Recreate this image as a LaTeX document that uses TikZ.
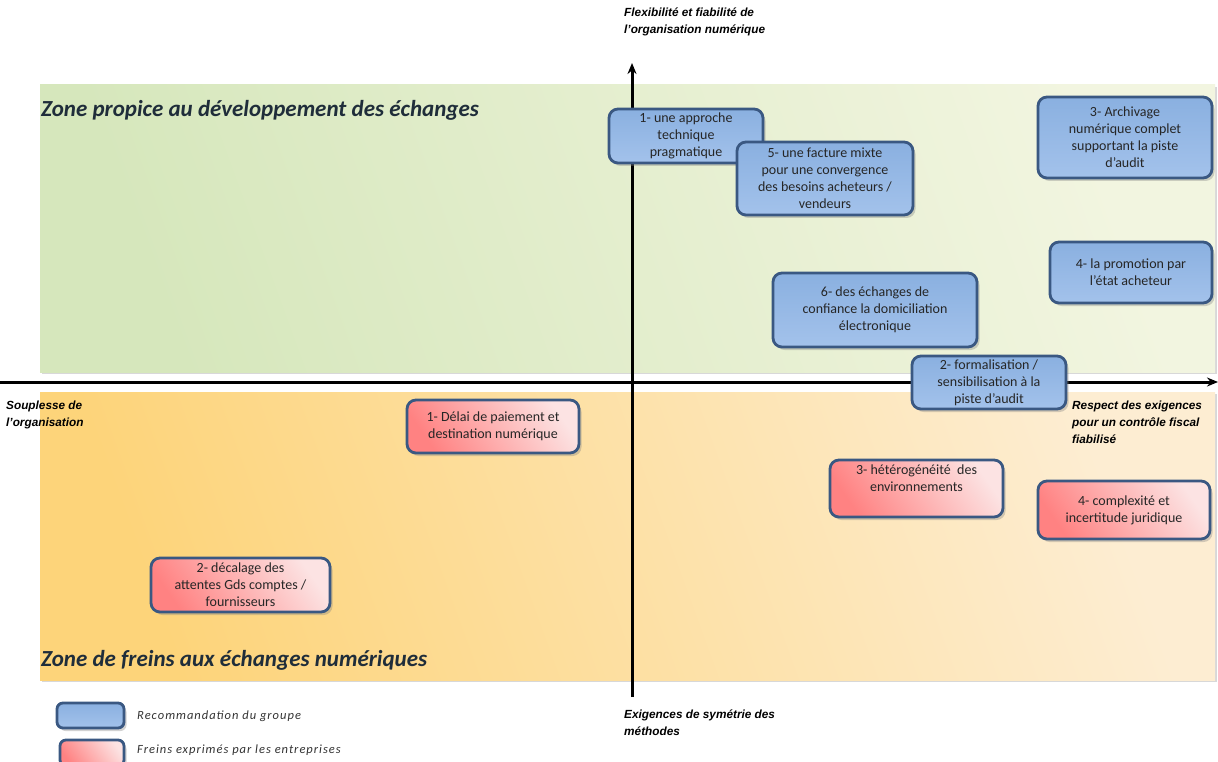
\documentclass[tikz,border=0pt]{standalone}
\usepackage{fontspec}
\setmainfont{Carlito}
\newfontfamily\axfont{Liberation Sans}
\usetikzlibrary{shadows,arrows.meta}
\definecolor{bluefillA}{HTML}{8AB0E0}
\definecolor{bluefillB}{HTML}{A3C2EB}
\definecolor{boxborder}{HTML}{3A5882}
\definecolor{redA}{HTML}{FF8282}
\definecolor{redB}{HTML}{FCE3E3}
\definecolor{greenA}{HTML}{D6E7BC}
\definecolor{greenB}{HTML}{F2F5E0}
\definecolor{orangeA}{HTML}{FDD47A}
\definecolor{orangeB}{HTML}{FDEDD2}
\definecolor{zonetext}{HTML}{1F2D3A}
\tikzset{
  boxbase/.style={rectangle, rounded corners=9pt, draw=boxborder, line width=2.8pt,
    align=center, inner sep=2pt, outer sep=0pt,
    font=\fontsize{14}{17}\selectfont, text=black!85,
    drop shadow={opacity=0.35, shadow xshift=2.5pt, shadow yshift=-3pt}},
  bluebox/.style={boxbase, top color=bluefillA, bottom color=bluefillB},
  redbox/.style={boxbase, left color=redA, right color=redB, shading angle=125},
  zonegreen/.style={rectangle, anchor=north west, inner sep=0pt, outer sep=0pt,
    left color=greenA, right color=greenB, shading angle=110,
    drop shadow={opacity=0.3, shadow xshift=2pt, shadow yshift=-2pt}},
  zoneorange/.style={rectangle, anchor=north west, inner sep=0pt, outer sep=0pt,
    left color=orangeA, right color=orangeB, shading angle=110,
    drop shadow={opacity=0.3, shadow xshift=2pt, shadow yshift=-2pt}},
  axisline/.style={line width=3pt, black, -{Stealth[length=11pt,width=9pt]},
    drop shadow={opacity=0.25, shadow xshift=1.5pt, shadow yshift=-1.5pt}},
  axlabel/.style={align=left, anchor=north west, inner sep=0pt,
    font=\axfont\fontsize{11.8}{17}\selectfont\bfseries\itshape},
  zonetitle/.style={anchor=west, inner sep=0pt, text=zonetext,
    font=\fontsize{23}{26}\selectfont\bfseries\itshape},
  legendtext/.style={anchor=west, inner sep=0pt, text=black!80,
    font=\fontsize{12.5}{14}\selectfont\itshape\addfontfeature{LetterSpace=8}},
}
\begin{document}
\begin{tikzpicture}[x=1pt,y=-1pt]
\useasboundingbox[fill=white] (0,0) rectangle (1218,762);

% zones
\node[zonegreen, minimum width=1175pt, minimum height=287pt] (zg) at (40,85) {};
\node[zoneorange, minimum width=1175pt, minimum height=288pt] (zo) at (40,392) {};
\node[zonetitle] (zgt) at (41,110) {Zone propice au développement des échanges};
\node[zonetitle] (zot) at (41,660) {Zone de freins aux échanges numériques};

% axes
\coordinate (xl) at (0,382);
\coordinate (xr) at (1218,382);
\coordinate (yb) at (632,697);
\coordinate (yt) at (632,63);
\draw[axisline] (xl) -- (xr);
\draw[axisline] (yb) -- (yt);

% axis labels
\node[axlabel] (ltop) at (624,8) {Flexibilité et fiabilité de\\l’organisation numérique};
\node[axlabel] (lleft) at (6,401) {Souplesse de\\l’organisation};
\node[axlabel] (lright) at (1072,401) {Respect des exigences\\pour un contrôle fiscal\\fiabilisé};
\node[axlabel] (lbot) at (624,710) {Exigences de symétrie des\\méthodes};

% blue boxes
\node[bluebox, minimum width=154pt, minimum height=54pt] (b1) at (686,136) {1- une approche\\technique\\pragmatique};
\node[bluebox, minimum width=176pt, minimum height=73pt] (b5) at (825,178.5) {5- une facture mixte\\pour une convergence\\des besoins acheteurs /\\vendeurs};
\node[bluebox, minimum width=174pt, minimum height=81pt] (b3) at (1125,137.5) {3- Archivage\\numérique complet\\supportant la piste\\d’audit};
\node[bluebox, minimum width=162pt, minimum height=61pt] (b4) at (1131,272.5) {4- la promotion par\\l’état acheteur};
\node[bluebox, minimum width=204pt, minimum height=74pt] (b6) at (875,310) {6- des échanges de\\confiance la domiciliation\\électronique};
\node[bluebox, minimum width=154pt, minimum height=53pt] (b2) at (989,382.5) {2- formalisation /\\sensibilisation à la\\piste d’audit};

% red boxes
\node[redbox, minimum width=172pt, minimum height=53pt] (r1) at (493,426.5) {1- Délai de paiement et\\destination numérique};
\node[redbox, minimum width=173pt, minimum height=57pt] (r3) at (916.5,488.5) {3- hétérogénéité\ \ des\\environnements\\[4pt]};
\node[redbox, minimum width=172pt, minimum height=58pt] (r4) at (1124,510) {4- complexité et\\incertitude juridique};
\node[redbox, minimum width=179pt, minimum height=54pt] (r2) at (240.5,585) {2- décalage des\\attentes Gds comptes /\\fournisseurs};

% legend
\node[bluebox, drop shadow={opacity=0}, rounded corners=6pt, minimum width=67pt, minimum height=25pt] (lgb) at (90.5,715.5) {};
\node[redbox, drop shadow={opacity=0}, rounded corners=6pt, minimum width=64pt, minimum height=26pt] (lgr) at (92,753) {};
\node[legendtext] (lgbt) at (137,716) {Recommandation\ du groupe};
\node[legendtext] (lgrt) at (137,750) {Freins exprimés\ par les entreprises};
\end{tikzpicture}
\end{document}
